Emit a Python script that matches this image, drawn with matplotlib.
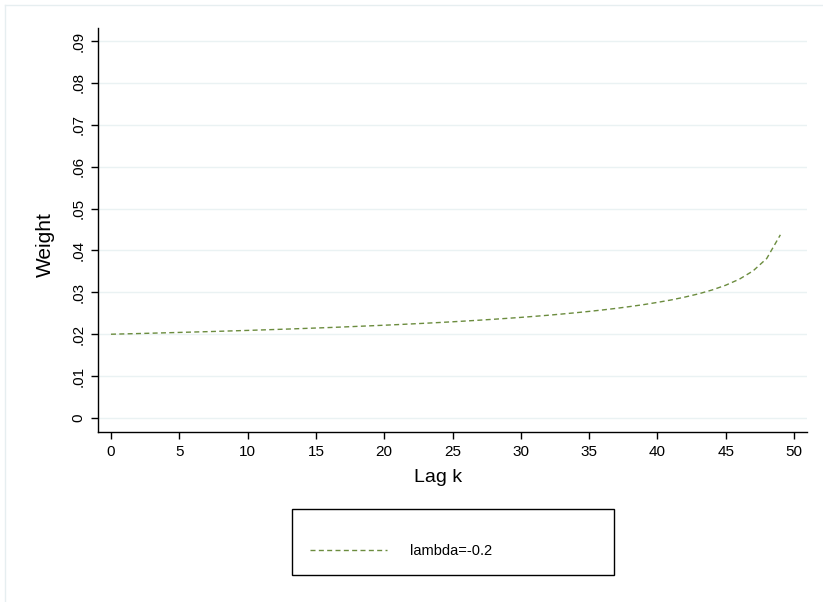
import numpy as np
import matplotlib
matplotlib.use("Agg")
import matplotlib.pyplot as plt
from matplotlib.lines import Line2D

# lag k and weights
lags = list(range(50))
weights = [0.02000, 0.02008, 0.02016, 0.02025, 0.02034, 0.02043, 0.02052, 0.02061,
           0.02071, 0.02081, 0.02091, 0.02102, 0.02113, 0.02124, 0.02136, 0.02148,
           0.02160, 0.02173, 0.02187, 0.02201, 0.02215, 0.02230, 0.02246, 0.02262,
           0.02279, 0.02297, 0.02316, 0.02336, 0.02357, 0.02379, 0.02402, 0.02427,
           0.02453, 0.02482, 0.02512, 0.02545, 0.02580, 0.02618, 0.02661, 0.02707,
           0.02760, 0.02818, 0.02886, 0.02963, 0.03056, 0.03170, 0.03314, 0.03511,
           0.03807, 0.04373]
series_label = "lambda=-0.2"

xticks = [0, 5, 10, 15, 20, 25, 30, 35, 40, 45, 50]
yticks = [0, 0.01, 0.02, 0.03, 0.04, 0.05, 0.06, 0.07, 0.08, 0.09]
yticklabels = ["0", ".01", ".02", ".03", ".04", ".05", ".06", ".07", ".08", ".09"]

plt.rcParams['font.family'] = ['Liberation Sans', 'DejaVu Sans']

W, H = 823, 602
fig = plt.figure(figsize=(W / 100, H / 100), dpi=100)
fig.patch.set_facecolor('white')

# faint outer frame (only top/left visible)
fig.add_artist(Line2D([5 / W, 5 / W], [0, 1 - 5 / H], color='#e6eef0', lw=1))
fig.add_artist(Line2D([5 / W, 1], [1 - 5 / H, 1 - 5 / H], color='#e6eef0', lw=1))

ax = fig.add_axes([98 / W, 1 - 432 / H, (807 - 98) / W, (432 - 28) / H])
line, = ax.plot(lags, weights, color='#6b8c3e', lw=1.0, linestyle=(0, (3.6, 2.4)))

ax.set_xlim(-0.95, 50.95)
ax.set_ylim(-0.00334, 0.0931)
ax.set_xticks(xticks)
ax.set_yticks(yticks)
ax.set_yticklabels(yticklabels, rotation=90, va='center')
ax.tick_params(axis='both', direction='out', length=5, width=1, color='black',
               labelsize=11, pad=4)
ax.yaxis.grid(True, color='#eaf2f3', lw=1)
ax.set_axisbelow(True)
for s in ['top', 'right']:
    ax.spines[s].set_visible(False)
for s in ['left', 'bottom']:
    ax.spines[s].set_linewidth(1)
    ax.spines[s].set_color('black')

ax.set_xlabel("Lag k", fontsize=14)
ax.set_ylabel("Weight", fontsize=15)
ax.xaxis.set_label_coords((438 - 98) / (807 - 98), -(478 - 432) / (432 - 28), transform=ax.transAxes)
ax.yaxis.set_label_coords(-(98 - 45) / (807 - 98), (432 - 245) / (432 - 28), transform=ax.transAxes)
ax.xaxis.label.set_va('center')
ax.yaxis.label.set_va('center')

leg = fig.legend([line], [series_label], loc='upper left',
                 bbox_to_anchor=(292 / W, 1 - 509 / H, (614 - 292) / W, 0),
                 mode='expand', fontsize=10.5, frameon=True, fancybox=False,
                 edgecolor='black', framealpha=1, handlelength=5.3,
                 handletextpad=1.6, borderpad=1.2, borderaxespad=0,
                 title=" ", title_fontsize=8)
leg.get_frame().set_linewidth(1)

fig.savefig("out.png", dpi=100)
